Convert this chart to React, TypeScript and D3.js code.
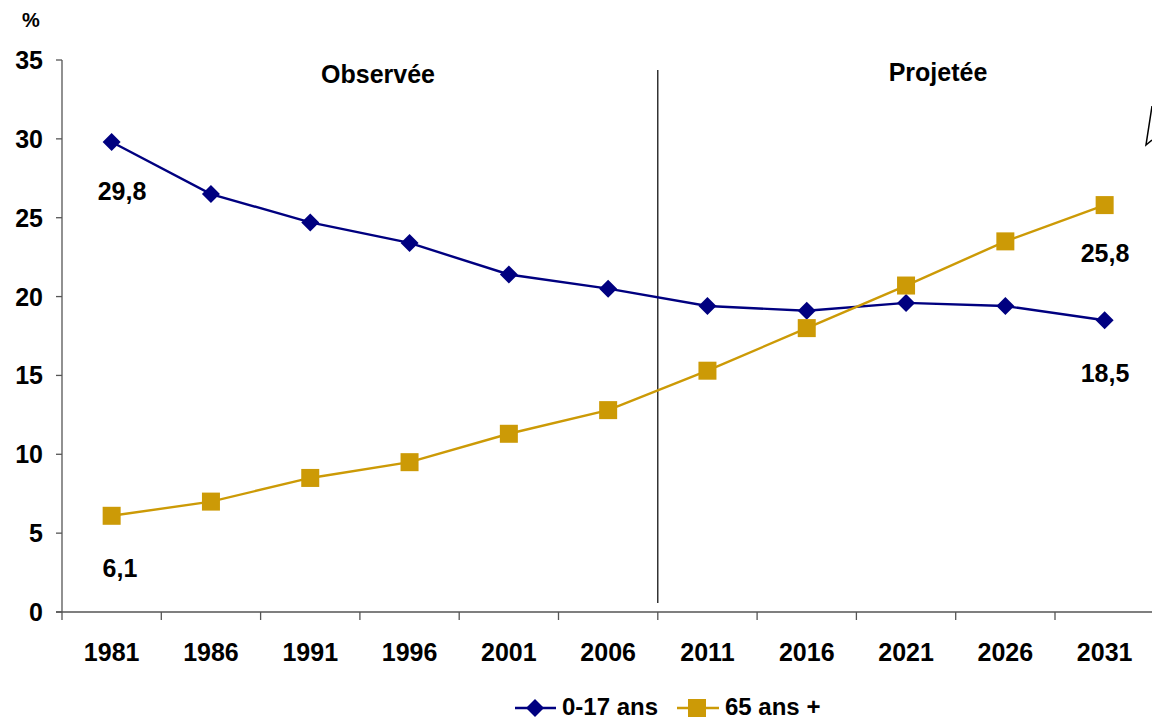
import React, { useEffect } from "react";
import * as d3 from "d3";

const years = ["1981", "1986", "1991", "1996", "2001", "2006", "2011", "2016", "2021", "2026", "2031"];
const youth = [29.8, 26.5, 24.7, 23.4, 21.4, 20.5, 19.4, 19.1, 19.6, 19.4, 18.5];
const seniors = [6.1, 7.0, 8.5, 9.5, 11.3, 12.8, 15.3, 18.0, 20.7, 23.5, 25.8];
const yTicks = [0, 5, 10, 15, 20, 25, 30, 35];
const seriesNames = ["0-17 ans", "65 ans +"];
const periodLabels = ["Observée", "Projetée"];

const W = 1152;
const H = 720;
const NAVY = "#000080";
const GOLD = "#CC9A06";
const FONT = "'Liberation Sans', Arial, sans-serif";
const FS = 25;

export default function App() {
  useEffect(() => {
    document.body.style.margin = "0";
  }, []);

  const x0 = 62;
  const step = 99.3;
  const x = d3.scaleBand<string>().domain(years).range([x0, x0 + step * years.length]).padding(0);
  const y = d3.scaleLinear().domain([0, 35]).range([612, 60]);
  const cx = (i: number) => (x(years[i]) as number) + x.bandwidth() / 2;

  const line = d3
    .line<number>()
    .x((_, i) => cx(i))
    .y((d) => y(d));

  const diamond = (px: number, py: number, r: number) =>
    `M${px},${py - r}L${px + r},${py}L${px},${py + r}L${px - r},${py}Z`;

  const boundary = x(years[6]) as number;
  const fmt = (v: number) => v.toFixed(1).replace(".", ",");

  return (
    <svg width={W} height={H} style={{ display: "block", position: "absolute", left: 0, top: 0, background: "#fff" }} fontFamily={FONT}>
      <rect x={0} y={0} width={W} height={H} fill="#fff" />
      {/* % unit */}
      <text x={31} y={27} fontSize={20} fontWeight="bold" textAnchor="middle">%</text>

      {/* y axis */}
      <line x1={x0} x2={x0} y1={y(35)} y2={y(0)} stroke="#555" strokeWidth={1.3} />
      {yTicks.map((t) => (
        <g key={t}>
          <line x1={x0 - 6} x2={x0} y1={y(t)} y2={y(t)} stroke="#555" strokeWidth={1.3} />
          <text x={43} y={y(t) + 9} fontSize={FS} fontWeight="bold" textAnchor="end">{t}</text>
        </g>
      ))}

      {/* x axis */}
      <line x1={x0 - 6} x2={W} y1={y(0)} y2={y(0)} stroke="#555" strokeWidth={1.3} />
      {years.map((yr, i) => (
        <g key={yr}>
          <line x1={x(yr) as number} x2={x(yr) as number} y1={y(0)} y2={y(0) + 8} stroke="#555" strokeWidth={1.3} />
          <text x={cx(i)} y={661} fontSize={FS} fontWeight="bold" textAnchor="middle">{yr}</text>
        </g>
      ))}

      {/* period separator */}
      <line x1={boundary} x2={boundary} y1={70} y2={603} stroke="#000" strokeWidth={1.2} />
      <text x={378} y={83} fontSize={FS} fontWeight="bold" textAnchor="middle">{periodLabels[0]}</text>
      <text x={938} y={81} fontSize={FS} fontWeight="bold" textAnchor="middle">{periodLabels[1]}</text>

      {/* series lines */}
      <path d={line(youth) || ""} fill="none" stroke={NAVY} strokeWidth={2.4} />
      <path d={line(seniors) || ""} fill="none" stroke={GOLD} strokeWidth={2.4} />
      {youth.map((v, i) => (
        <path key={"y" + i} d={diamond(cx(i), y(v), 9)} fill={NAVY} />
      ))}
      {seniors.map((v, i) => (
        <rect key={"s" + i} x={cx(i) - 9} y={y(v) - 9} width={18} height={18} fill={GOLD} />
      ))}

      {/* value labels */}
      <text x={122} y={200} fontSize={FS} fontWeight="bold" textAnchor="middle">{fmt(youth[0])}</text>
      <text x={120} y={577} fontSize={FS} fontWeight="bold" textAnchor="middle">{fmt(seniors[0])}</text>
      <text x={1105} y={262} fontSize={FS} fontWeight="bold" textAnchor="middle">{fmt(seniors[10])}</text>
      <text x={1105} y={382} fontSize={FS} fontWeight="bold" textAnchor="middle">{fmt(youth[10])}</text>

      {/* callout fragment at right edge */}
      <path d="M1152,106 L1146,145 L1152,140" fill="none" stroke="#000" strokeWidth={1.5} />

      {/* legend */}
      <line x1={515} x2={556} y1={708} y2={708} stroke={NAVY} strokeWidth={2.4} />
      <path d={diamond(535, 708, 9)} fill={NAVY} />
      <text x={562} y={715} fontSize={24} fontWeight="bold">{seriesNames[0]}</text>
      <line x1={677} x2={719} y1={708} y2={708} stroke={GOLD} strokeWidth={2.4} />
      <rect x={688} y={699} width={18} height={18} fill={GOLD} />
      <text x={725} y={715} fontSize={24} fontWeight="bold">{seriesNames[1]}</text>
    </svg>
  );
}
